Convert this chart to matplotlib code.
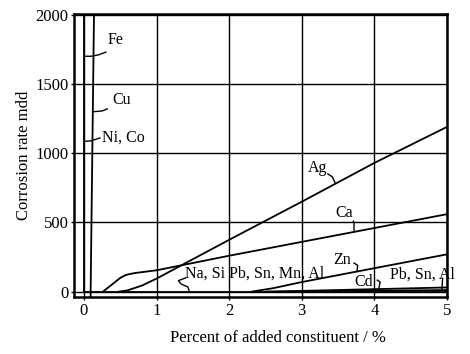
import matplotlib
matplotlib.use("Agg")
import matplotlib.pyplot as plt

plt.rcParams["font.family"] = ["Liberation Serif", "DejaVu Serif"]

# corrosion rate (mdd) vs percent of added constituent
ag_x = [0.47, 0.6, 0.8, 1.0, 1.5, 2.0, 3.0, 4.0, 5.0]
ag_y = [0, 10, 45, 95, 235, 375, 650, 930, 1190]

ca_x = [0.26, 0.38, 0.5, 0.58, 0.7, 1.0, 2.0, 3.0, 4.0, 5.0]
ca_y = [0, 50, 100, 122, 135, 155, 260, 360, 460, 560]

zn_x = [2.3, 2.6, 3.0, 4.0, 5.0]
zn_y = [0, 25, 70, 170, 270]

cd_x = [2.5, 5.0]
cd_y = [0, 31]

pb_x = [2.5, 5.0]
pb_y = [0, 12]

base_x = [0.0, 5.0]          # Na, Si, Pb, Sn, Mn, Al
base_y = [0, 0]

fe_x = [0.0, 0.0]            # Fe, Ni, Co
fe_y = [0, 2100]

cu_x = [0.09, 0.14]
cu_y = [-60, 2100]

xticks = [0, 1, 2, 3, 4, 5]
yticks = [0, 500, 1000, 1500, 2000]

# label text, text position, leader line
labels = [
    ("Fe", (0.33, 1818), [0, 0.1, 0.2, 0.3], [1700, 1700, 1710, 1730]),
    ("Cu", (0.39, 1384), [0.13, 0.25, 0.32], [1300, 1305, 1320]),
    ("Ni, Co", (0.25, 1109), [0, 0.1, 0.22], [1085, 1090, 1110]),
    ("Ag", (3.09, 893), [3.36, 3.42, 3.46], [850, 830, 785]),
    ("Ca", (3.46, 568), [3.69, 3.72, 3.72], [523, 500, 432]),
    ("Zn", (3.43, 228), [3.72, 3.77, 3.76], [207, 190, 146]),
    ("Cd", (3.73, 69), [4.04, 4.08, 4.06], [84, 70, 22]),
    ("Pb, Sn, Al", (4.21, 120), [4.94, 4.93], [98, 12]),
    ("Na, Si Pb, Sn, Mn, Al", (1.39, 134),
     [1.40, 1.30, 1.34, 1.43, 1.45], [100, 80, 55, 35, 5]),
]

fig = plt.figure(figsize=(4.7, 3.54), dpi=100)
ax = fig.add_axes([0.1574, 0.161, 0.7936, 0.7994])

ax.set_xlim(-0.138, 5.0)
ax.set_ylim(-38, 2005)
ax.set_xticks(xticks)
ax.set_yticks(yticks)
ax.grid(True, color="black", lw=1.0)
ax.set_axisbelow(True)

lw = 1.3
for xs, ys in [(ag_x, ag_y), (ca_x, ca_y), (zn_x, zn_y), (cd_x, cd_y),
               (pb_x, pb_y), (base_x, base_y), (fe_x, fe_y), (cu_x, cu_y)]:
    ax.plot(xs, ys, color="black", lw=lw, solid_capstyle="butt")

for text, (tx, ty), lx, ly in labels:
    ax.plot(lx, ly, color="black", lw=1.0)
    t = ax.text(tx, ty, text, fontsize=11.5, va="center", ha="left")
    if text == "Ca":
        t.set_bbox(dict(facecolor="white", edgecolor="none", pad=0))

for s in ax.spines.values():
    s.set_linewidth(1.8)
ax.tick_params(direction="out", length=2.5, width=1, labelsize=12, pad=1.5)

ax.set_xlabel("Percent of added constituent / %", fontsize=12)
ax.xaxis.set_label_coords(0.547, -0.115)
ax.set_ylabel("Corrosion rate mdd", fontsize=12, labelpad=2)

fig.savefig("out.png", dpi=100)
